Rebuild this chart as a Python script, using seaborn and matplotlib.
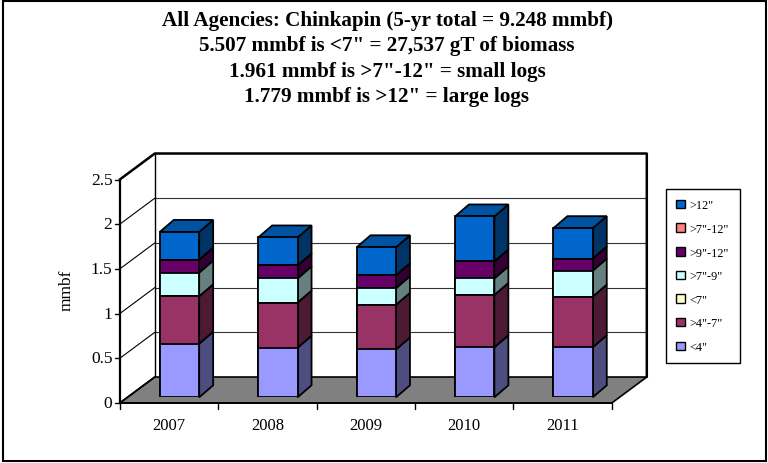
import matplotlib
matplotlib.use("Agg")
import numpy as np
import pandas as pd
import matplotlib.pyplot as plt
from matplotlib.patches import Patch, Rectangle
from matplotlib.colors import to_rgb
import seaborn as sns

# ---- data (mmbf per diameter class and year) ----
years = ["2007", "2008", "2009", "2010", "2011"]
# stacking order, bottom to top
series = ['<4"', '>4"-7"', '<7"', '>7"-9"', '>9"-12"', '>7"-12"', '>12"']
lt4 = [0.60, 0.555, 0.535, 0.56, 0.56]
gt4_7 = [0.53, 0.505, 0.50, 0.585, 0.567]
lt7 = [0.0, 0.0, 0.0, 0.0, 0.0]
gt7_9 = [0.265, 0.27, 0.185, 0.185, 0.29]
gt9_12 = [0.145, 0.145, 0.145, 0.19, 0.135]
gt7_12 = [0.0, 0.0, 0.0, 0.0, 0.0]
gt12 = [0.31, 0.313, 0.313, 0.503, 0.34]
values = [lt4, gt4_7, lt7, gt7_9, gt9_12, gt7_12, gt12]
yticks = [0, 0.5, 1, 1.5, 2, 2.5]

title = ("All Agencies: Chinkapin (5-yr total = 9.248 mmbf)\n"
         "5.507 mmbf is <7\" = 27,537 gT of biomass\n"
         "1.961 mmbf is >7\"-12\" = small logs\n"
         "1.779 mmbf is >12\" = large logs")

colors = ["#9999FF", "#993366", "#FFFFCC", "#CCFFFF", "#660066", "#FF8080", "#0066CC"]

sns.set_style("white")
plt.rcParams["font.family"] = ["Liberation Serif", "DejaVu Serif"]
plt.rcParams["text.color"] = "black"

W, H = 768, 464
fig = plt.figure(figsize=(W / 100, H / 100), dpi=100)
ax = fig.add_axes([130.3 / W, (H - 398.3) / H, 492 / W, 223.5 / H])
ax.set_axis_off()

# oblique offsets (data units) of the front plane, back wall and bar depth
FX, FY = -0.107, -0.064
BX, BY = 0.249, 0.227
DX, DY = 0.142, 0.134
BAR_W = 0.4
x0, x1 = -0.5, len(years) - 0.5
ymax = yticks[-1]

def darker(c, f):
    r, g, b = to_rgb(c)
    return (r * f, g * f, b * f)

# floor
ax.fill([x0 + FX, x1 + FX, x1 + BX, x0 + BX], [FY, FY, BY, BY],
        facecolor="#808080", edgecolor="black", lw=1.2, zorder=1, clip_on=False)
# back wall and left wall
ax.fill([x0 + BX, x1 + BX, x1 + BX, x0 + BX], [BY, BY, ymax + BY, ymax + BY],
        facecolor="white", edgecolor="none", zorder=0.5, clip_on=False)
for v in yticks[1:-1]:
    ax.plot([x0 + BX, x1 + BX], [v + BY, v + BY], color="#333333", lw=0.8,
            zorder=1.5, clip_on=False)
    ax.plot([x0 + FX, x0 + BX], [v + FY, v + BY], color="black", lw=0.8,
            zorder=1.5, clip_on=False)
ax.plot([x0 + FX, x0 + BX, x1 + BX, x1 + BX], [ymax + FY, ymax + BY, ymax + BY, BY],
        color="black", lw=1.8, zorder=1.6, clip_on=False)
ax.plot([x0 + BX, x0 + BX], [BY, ymax + BY], color="black", lw=1.0, zorder=1.6,
        clip_on=False)
ax.plot([x0 + FX, x0 + BX], [FY, BY], color="black", lw=1.2, zorder=1.6, clip_on=False)

# front value axis
ax.plot([x0 + FX, x0 + FX], [FY, ymax + FY], color="black", lw=1.6, zorder=4,
        clip_on=False)
for v in yticks:
    ax.plot([x0 + FX - 0.05, x0 + FX], [v + FY, v + FY], color="black", lw=1.0,
            zorder=4, clip_on=False)
    ax.text(x0 + FX - 0.075, v + FY, f"{v:g}", ha="right", va="center",
            fontsize=12.5, zorder=4)

# front category axis
ax.plot([x0 + FX, x1 + FX], [FY, FY], color="black", lw=1.4, zorder=4, clip_on=False)
for b in np.arange(x0, x1 + 0.01, 1.0):
    ax.plot([b + FX, b + FX], [FY, FY - 0.065], color="black", lw=1.0, zorder=4,
            clip_on=False)
for i, yr in enumerate(years):
    ax.text(i + FX, FY - 0.245, yr, ha="center", va="center", fontsize=12)

# stacked bars: front faces via seaborn (tallest cumulative first)
cum = np.cumsum(np.array(values), axis=0)
df = pd.DataFrame([(yr, s, cum[k, i]) for k, s in enumerate(series)
                   for i, yr in enumerate(years)], columns=["year", "series", "top"])
for k in range(len(series) - 1, -1, -1):
    sub = df[df["series"] == series[k]]
    sns.barplot(data=sub, x="year", y="top", order=years, color=colors[k],
                saturation=1, width=BAR_W, edgecolor="black", linewidth=1.3,
                errorbar=None, ax=ax, zorder=3)

# side and top faces of each bar
for i in range(len(years)):
    right = i + BAR_W / 2
    left = i - BAR_W / 2
    bottom = 0.0
    top_k = None
    for k in range(len(series)):
        h = values[k][i]
        if h <= 0:
            continue
        t = bottom + h
        ax.fill([right, right + DX, right + DX, right], [bottom, bottom + DY, t + DY, t],
                facecolor=darker(colors[k], 0.5), edgecolor="black", lw=1.3,
                zorder=2.9, clip_on=False)
        bottom = t
        top_k = k
    ax.fill([left, right, right + DX, left + DX], [bottom, bottom, bottom + DY, bottom + DY],
            facecolor=darker(colors[top_k], 0.8), edgecolor="black", lw=1.3,
            zorder=2.9, clip_on=False)

ax.set_xlim(x0, x1)
ax.set_ylim(0, ymax)
ax.set_xlabel("")
ax.set_ylabel("")

# legend, listed top series first
handles = [Patch(facecolor=colors[k], edgecolor="black", lw=1.0, label=series[k])
           for k in range(len(series) - 1, -1, -1)]
fig.legend(handles=handles, loc="upper left", bbox_to_anchor=(666 / W, 1 - 190 / H),
           frameon=True, fancybox=False, edgecolor="black", framealpha=1,
           fontsize=8.8, handlelength=0.7, handleheight=0.7, labelspacing=0.95,
           borderpad=0.85, handletextpad=0.4, borderaxespad=0, labelcolor="black")
fig.legends[0].get_frame().set_linewidth(1.0)

fig.text(67 / W, 1 - 290 / H, "mmbf", rotation=90, ha="center", va="center",
         fontsize=12.5)
fig.text(387 / W, 1 - 11 / H, title, ha="center", va="top", fontsize=15.2,
         fontweight="bold", linespacing=1.36)

fig.patches.append(Rectangle((3 / W, 2 / H), 763 / W, 460 / H, transform=fig.transFigure,
                             fill=False, edgecolor="black", lw=1.5))

fig.savefig("out.png", dpi=100)
